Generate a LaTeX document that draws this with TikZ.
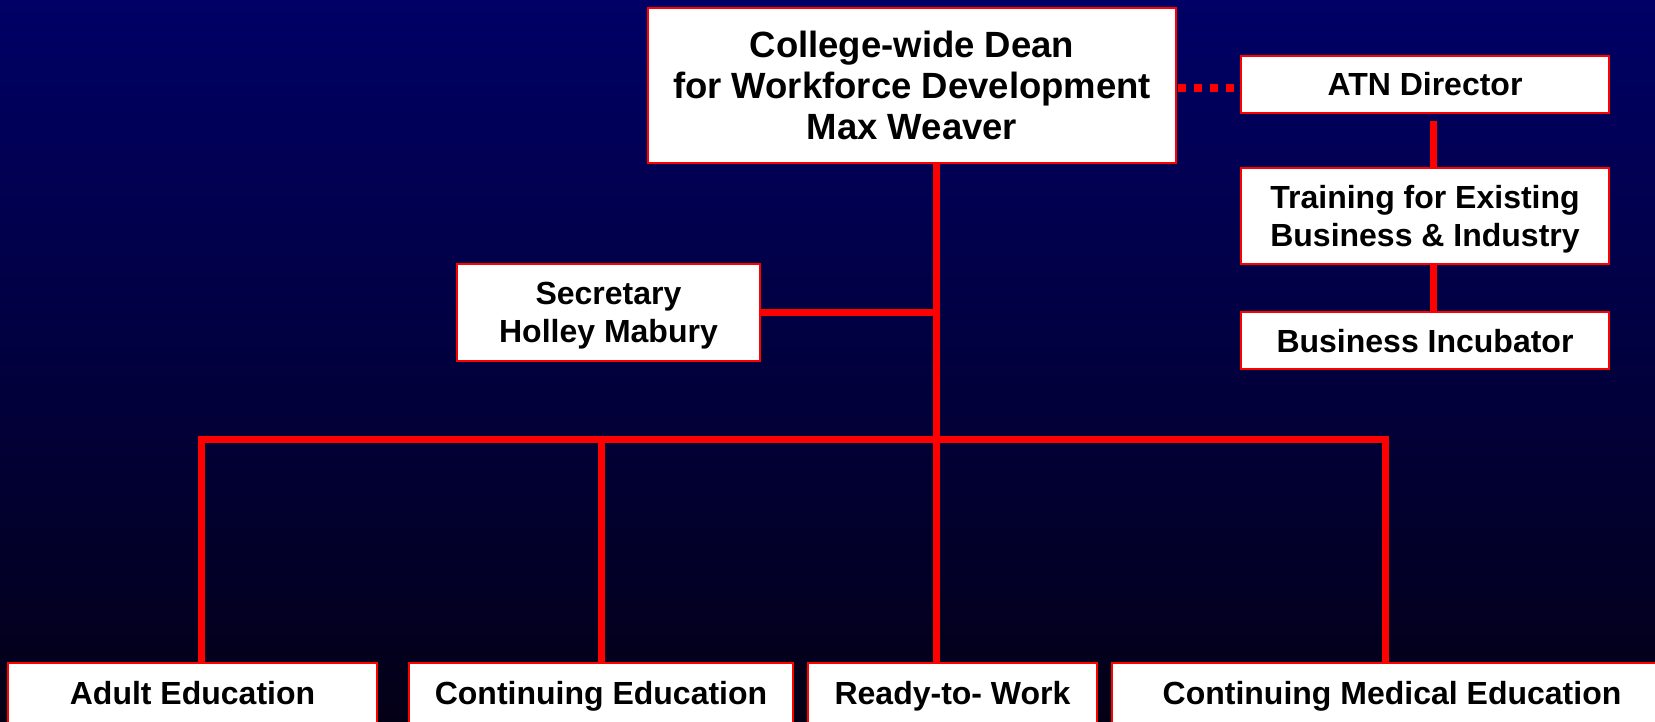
\documentclass[tikz,border=0pt]{standalone}
\usepackage{fontspec}
\setmainfont{Liberation Sans}
\definecolor{bgtop}{RGB}{0,0,102}
\definecolor{bgbot}{RGB}{3,0,22}
\begin{document}
\begin{tikzpicture}[x=1pt,y=-1pt,
  box/.style={draw=red, line width=2.5pt, fill=white, inner sep=0pt, align=center,
    text=black, font=\bfseries\fontsize{32}{38}\selectfont, text depth=0pt},
  onebox/.style={box, text height=23pt},
  bigbox/.style={box, font=\bfseries\fontsize{36.5}{41}\selectfont},
  link/.style={draw=red, line width=7pt, line join=miter},
  dotlink/.style={draw=red, line width=8pt, dash pattern=on 8pt off 8pt}]
\useasboundingbox (0,0) rectangle (1655,722);
\clip (0,0) rectangle (1655,722);
\shade[top color=bgtop, bottom color=bgbot] (0,0) rectangle (1655,722);

% nodes
\node[bigbox, minimum width=528pt, minimum height=155pt] (dean) at (912,85.5)
  {College-wide Dean\\for Workforce Development\\Max Weaver};
\node[onebox, minimum width=368pt, minimum height=57pt] (atn) at (1425,84.5) {ATN Director};
\node[box, minimum width=368pt, minimum height=96pt] (train) at (1425,216)
  {Training for Existing\\Business \& Industry};
\node[onebox, minimum width=368pt, minimum height=57pt] (incub) at (1425,340.5) {Business Incubator};
\node[box, minimum width=303pt, minimum height=97pt] (sec) at (608.5,312.5)
  {Secretary\\Holley Mabury};
\node[onebox, minimum width=369pt, minimum height=60pt] (adult) at (192.5,693) {Adult Education};
\node[onebox, minimum width=384pt, minimum height=60pt] (contedu) at (601,693) {Continuing Education};
\node[onebox, minimum width=289pt, minimum height=60pt] (ready) at (952.5,693) {Ready-to- Work};
\node[onebox, minimum width=560pt, minimum height=60pt] (cme) at (1392,693) {Continuing Medical Education};

% coordinates
\coordinate (trunk) at (936,439);
\coordinate (dA) at (201,439);
\coordinate (dC) at (601,439);
\coordinate (dE) at (1385,439);
\coordinate (sidex) at (1433,0);
\coordinate (dotstart) at (1177.5,88);
\coordinate (dotend) at (1241,88);

% connectors
\draw[link] (dean.south -| trunk) -- (trunk);
\draw[link] (sec.east) -- (sec.east -| trunk);
\draw[link] (adult.north -| dA) -- (dA) -- (dE) -- (cme.north -| dE);
\draw[link] (dC) -- (contedu.north -| dC);
\draw[link] (trunk) -- (ready.north -| trunk);
\draw[dotlink] (dotstart) -- (dotend);
\draw[link] ([yshift=-7pt]atn.south -| sidex) -- (train.north -| sidex);
\draw[link] (train.south -| sidex) -- (incub.north -| sidex);
\end{tikzpicture}
\end{document}
